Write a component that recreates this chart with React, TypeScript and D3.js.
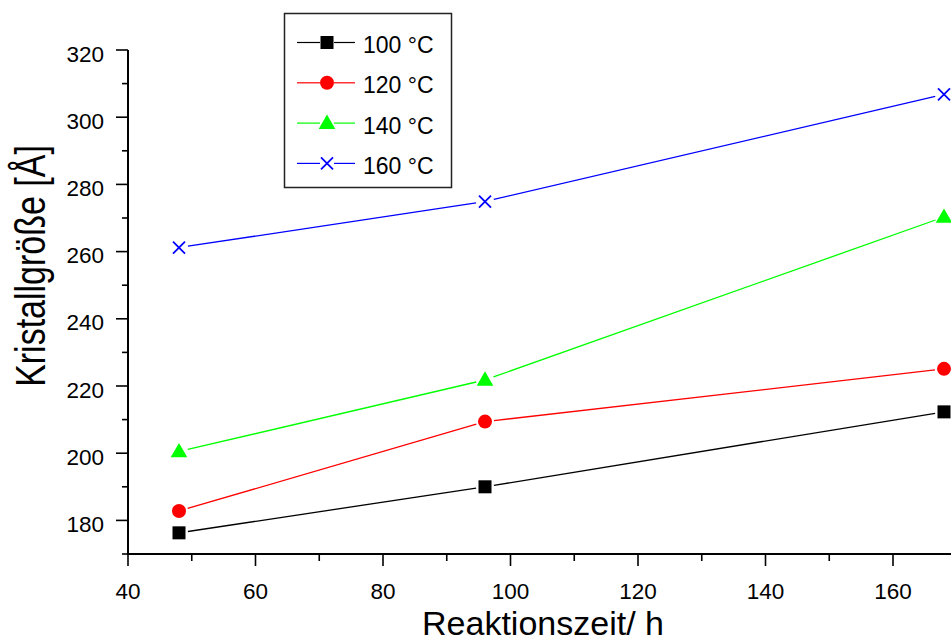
import React from "react";
import * as d3 from "d3";

const times = [48, 96, 168];
const series100 = [176.3, 190, 212.3];
const series120 = [182.8, 209.4, 225.1];
const series140 = [200.5, 221.8, 270.3];
const series160 = [261.2, 274.9, 306.8];
const seriesNames = ["100 °C", "120 °C", "140 °C", "160 °C"];
const seriesColors = ["#000000", "#ff0000", "#00ff00", "#0000ff"];
const seriesShapes = ["square", "circle", "triangle", "cross"];
const xMajorTicks = [40, 60, 80, 100, 120, 140, 160];
const xMinorTicks = [50, 70, 90, 110, 130, 150, 170];
const yMajorTicks = [180, 200, 220, 240, 260, 280, 300, 320];
const yMinorTicks = [170, 190, 210, 230, 250, 270, 290, 310];

const W = 951;
const H = 641;
const FONT = "'Liberation Sans', Arial, sans-serif";

function Marker({ shape, x, y, color }: { shape: string; x: number; y: number; color: string }) {
  if (shape === "square") {
    return <rect x={x - 6.5} y={y - 6.5} width={13} height={13} fill={color} />;
  }
  if (shape === "circle") {
    return <circle cx={x} cy={y} r={7} fill={color} />;
  }
  if (shape === "triangle") {
    const p = d3.symbol(d3.symbolTriangle, 120)();
    return <path d={p || ""} transform={`translate(${x},${y + 1})`} fill={color} />;
  }
  return (
    <g stroke={color} strokeWidth={1.8}>
      <line x1={x - 6} y1={y - 6} x2={x + 6} y2={y + 6} />
      <line x1={x - 6} y1={y + 6} x2={x + 6} y2={y - 6} />
    </g>
  );
}

export default function App() {
  const x = d3.scaleLinear().domain([40, 170]).range([128, 128 + 130 * 6.375]);
  const y = d3.scaleLinear().domain([170, 320]).range([554, 50]);
  const allSeries = [series100, series120, series140, series160];
  const gap = 9;

  return (
    <svg
      width={W}
      height={H}
      style={{ position: "absolute", left: 0, top: 0, background: "#fff" }}
      fontFamily={FONT}
    >
      <rect width={W} height={H} fill="#fff" />
      {/* data */}
      {allSeries.map((vals, si) => {
        const pts = vals.map((v, i) => [x(times[i]), y(v)]);
        const segs = [];
        for (let i = 0; i < pts.length - 1; i++) {
          const [x1, y1] = pts[i];
          const [x2, y2] = pts[i + 1];
          const len = Math.hypot(x2 - x1, y2 - y1);
          const ux = (x2 - x1) / len;
          const uy = (y2 - y1) / len;
          segs.push(
            <line
              key={i}
              x1={x1 + ux * gap}
              y1={y1 + uy * gap}
              x2={x2 - ux * gap}
              y2={y2 - uy * gap}
              stroke={seriesColors[si]}
              strokeWidth={1.3}
            />
          );
        }
        return (
          <g key={si}>
            {segs}
            {pts.map(([px, py], i) => (
              <Marker key={i} shape={seriesShapes[si]} x={px} y={py} color={seriesColors[si]} />
            ))}
          </g>
        );
      })}

      {/* axes */}
      <line x1={128} y1={y(320)} x2={128} y2={y(170) + 1} stroke="#000" strokeWidth={2} />
      <line x1={127} y1={554} x2={W} y2={554} stroke="#000" strokeWidth={2} />
      {yMajorTicks.map((t) => (
        <g key={t}>
          <line x1={116} x2={128} y1={y(t)} y2={y(t)} stroke="#000" strokeWidth={1.6} />
          <text x={104} y={y(t) + 11.5} textAnchor="end" fontSize={22.5} fill="#000">
            {t}
          </text>
        </g>
      ))}
      {yMinorTicks.map((t) => (
        <line key={t} x1={122} x2={128} y1={y(t)} y2={y(t)} stroke="#000" strokeWidth={1.6} />
      ))}
      {xMajorTicks.map((t) => (
        <g key={t}>
          <line x1={x(t)} x2={x(t)} y1={554} y2={566} stroke="#000" strokeWidth={1.6} />
          <text x={x(t)} y={599} textAnchor="middle" fontSize={22.5} fill="#000">
            {t}
          </text>
        </g>
      ))}
      {xMinorTicks.map((t) => (
        <line key={t} x1={x(t)} x2={x(t)} y1={554} y2={561} stroke="#000" strokeWidth={1.6} />
      ))}

      {/* axis titles */}
      <text x={543} y={635} textAnchor="middle" fontSize={34} fill="#000">
        Reaktionszeit/ h
      </text>
      <text
        transform={`translate(45,266) rotate(-90) scale(1,1.25)`}
        textAnchor="middle"
        fontSize={34}
        fill="#000"
      >
        Kristallgröße [Å]
      </text>

      {/* legend */}
      <rect x={284.5} y={13.5} width={167} height={174} fill="#fff" stroke="#222" strokeWidth={1.5} />
      {seriesNames.map((name, i) => {
        const ly = 42.5 + i * 40.3;
        return (
          <g key={name}>
            <line x1={297} x2={320} y1={ly} y2={ly} stroke={seriesColors[i]} strokeWidth={1.2} />
            <line x1={334} x2={355} y1={ly} y2={ly} stroke={seriesColors[i]} strokeWidth={1.2} />
            <Marker shape={seriesShapes[i]} x={327} y={ly} color={seriesColors[i]} />
            <text x={363} y={ly + 10.5} fontSize={23} fill="#000">
              {name}
            </text>
          </g>
        );
      })}
    </svg>
  );
}
